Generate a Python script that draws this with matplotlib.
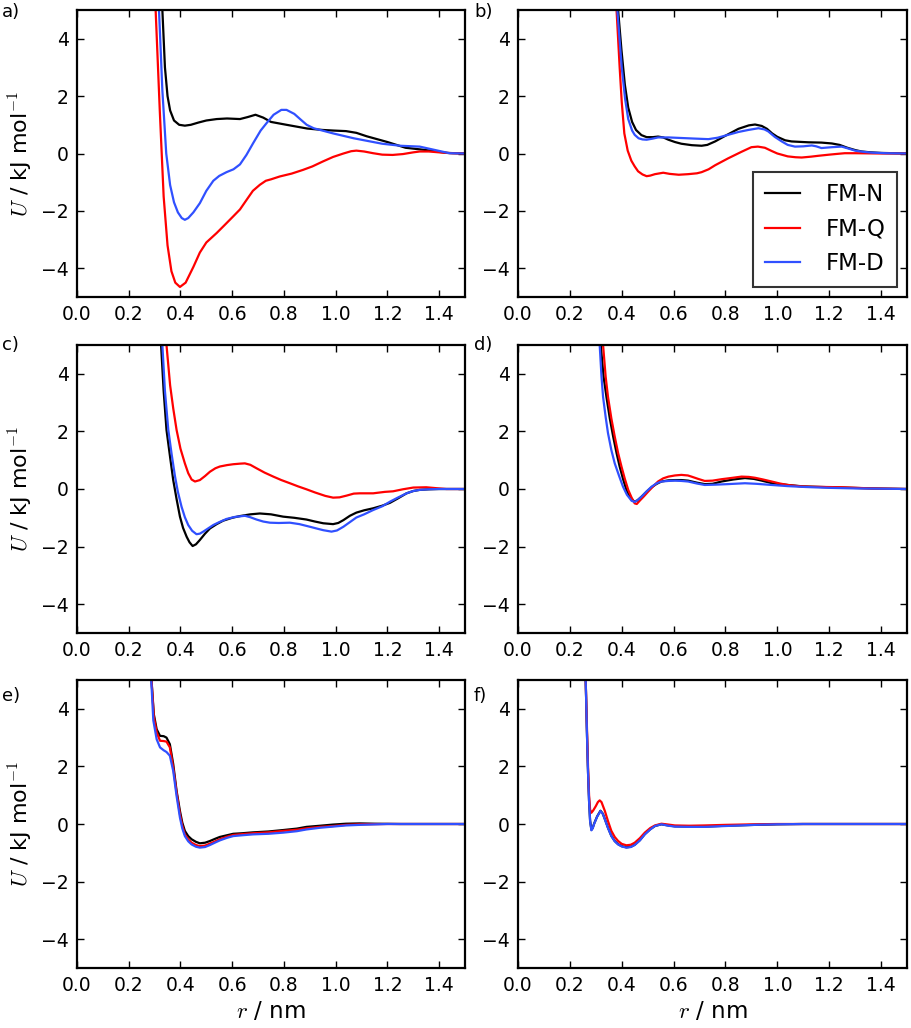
import matplotlib
matplotlib.use('Agg')
import matplotlib.pyplot as plt

# ---- panel a ----
a_N_r = [0.322, 0.33, 0.34, 0.35, 0.36, 0.375, 0.395, 0.417, 0.44, 0.47, 0.50, 0.54, 0.58, 0.63, 0.66, 0.69, 0.72, 0.75, 0.81, 0.89, 0.95, 0.99, 1.04, 1.08, 1.12, 1.20, 1.27, 1.35, 1.43, 1.50]
a_N_U = [9, 5, 3.0, 2.0, 1.5, 1.15, 1.0, 0.97, 1.0, 1.08, 1.15, 1.2, 1.22, 1.2, 1.27, 1.35, 1.25, 1.1, 1.0, 0.87, 0.82, 0.8, 0.78, 0.72, 0.6, 0.4, 0.2, 0.12, 0.02, 0.0]
a_Q_r = [0.296, 0.304, 0.32, 0.335, 0.35, 0.365, 0.38, 0.398, 0.42, 0.45, 0.475, 0.50, 0.54, 0.57, 0.604, 0.63, 0.656, 0.68, 0.707, 0.73, 0.75, 0.784, 0.83, 0.874, 0.91, 0.95, 0.99, 1.03, 1.06, 1.08, 1.11, 1.145, 1.18, 1.22, 1.26, 1.30, 1.325, 1.36, 1.40, 1.45, 1.50]
a_Q_U = [9, 5, 1.5, -1.5, -3.2, -4.1, -4.5, -4.65, -4.5, -3.95, -3.45, -3.1, -2.77, -2.5, -2.19, -1.95, -1.61, -1.3, -1.09, -0.95, -0.9, -0.8, -0.7, -0.57, -0.45, -0.28, -0.12, 0.0, 0.08, 0.1, 0.07, 0.01, -0.04, -0.05, -0.02, 0.04, 0.07, 0.07, 0.04, 0.01, 0.0]
a_D_r = [0.31, 0.317, 0.33, 0.345, 0.36, 0.375, 0.39, 0.405, 0.417, 0.43, 0.45, 0.475, 0.50, 0.527, 0.55, 0.578, 0.605, 0.63, 0.655, 0.681, 0.71, 0.733, 0.76, 0.79, 0.81, 0.84, 0.865, 0.888, 0.915, 0.94, 0.99, 1.07, 1.18, 1.25, 1.325, 1.38, 1.44, 1.50]
a_D_U = [9, 5, 2.2, 0.0, -1.1, -1.7, -2.05, -2.25, -2.31, -2.25, -2.05, -1.73, -1.3, -0.95, -0.78, -0.65, -0.55, -0.38, -0.05, 0.36, 0.8, 1.06, 1.35, 1.52, 1.52, 1.38, 1.18, 1.0, 0.88, 0.82, 0.7, 0.53, 0.34, 0.27, 0.24, 0.13, 0.01, 0.0]

# ---- panel b ----
b_N_r = [0.378, 0.386, 0.399, 0.412, 0.425, 0.44, 0.455, 0.476, 0.496, 0.52, 0.54, 0.56, 0.58, 0.605, 0.63, 0.67, 0.708, 0.73, 0.76, 0.80, 0.85, 0.89, 0.914, 0.94, 0.96, 0.98, 1.0, 1.03, 1.055, 1.12, 1.17, 1.21, 1.24, 1.27, 1.30, 1.325, 1.36, 1.40, 1.50]
b_N_U = [9, 5, 3.6, 2.4, 1.6, 1.1, 0.82, 0.64, 0.57, 0.57, 0.59, 0.56, 0.48, 0.4, 0.34, 0.29, 0.27, 0.3, 0.42, 0.62, 0.86, 0.98, 1.01, 0.96, 0.86, 0.7, 0.58, 0.46, 0.42, 0.39, 0.38, 0.35, 0.3, 0.2, 0.12, 0.07, 0.04, 0.02, 0.0]
b_Q_r = [0.373, 0.38, 0.392, 0.40, 0.41, 0.423, 0.437, 0.45, 0.463, 0.48, 0.496, 0.51, 0.528, 0.56, 0.585, 0.62, 0.656, 0.69, 0.708, 0.735, 0.76, 0.81, 0.862, 0.90, 0.925, 0.952, 0.98, 1.0, 1.04, 1.07, 1.094, 1.13, 1.158, 1.2, 1.235, 1.26, 1.30, 1.40, 1.50]
b_Q_U = [9, 5, 3.0, 1.8, 0.7, 0.1, -0.25, -0.45, -0.62, -0.73, -0.79, -0.77, -0.72, -0.67, -0.71, -0.74, -0.72, -0.69, -0.65, -0.55, -0.41, -0.17, 0.06, 0.22, 0.24, 0.2, 0.08, 0.0, -0.1, -0.13, -0.14, -0.11, -0.08, -0.04, -0.01, 0.01, 0.01, 0.0, 0.0]
b_D_r = [0.375, 0.383, 0.40, 0.413, 0.425, 0.44, 0.45, 0.465, 0.48, 0.496, 0.52, 0.54, 0.58, 0.63, 0.68, 0.734, 0.77, 0.81, 0.85, 0.888, 0.927, 0.95, 0.965, 0.99, 1.017, 1.04, 1.068, 1.10, 1.133, 1.15, 1.17, 1.21, 1.248, 1.275, 1.30, 1.33, 1.364, 1.42, 1.50]
b_D_U = [9, 5, 3.0, 1.9, 1.2, 0.8, 0.65, 0.53, 0.49, 0.48, 0.52, 0.56, 0.56, 0.54, 0.52, 0.5, 0.55, 0.65, 0.75, 0.82, 0.88, 0.84, 0.77, 0.58, 0.42, 0.3, 0.24, 0.25, 0.28, 0.25, 0.19, 0.22, 0.24, 0.17, 0.1, 0.06, 0.03, 0.01, 0.0]

# ---- panel c ----
c_N_r = [0.318, 0.325, 0.335, 0.346, 0.36, 0.372, 0.385, 0.398, 0.41, 0.424, 0.435, 0.447, 0.46, 0.475, 0.495, 0.514, 0.54, 0.565, 0.60, 0.63, 0.67, 0.707, 0.75, 0.797, 0.84, 0.887, 0.92, 0.952, 0.99, 1.01, 1.03, 1.055, 1.08, 1.11, 1.145, 1.18, 1.21, 1.24, 1.274, 1.30, 1.325, 1.36, 1.40, 1.50]
c_N_U = [9, 5, 3.4, 2.05, 1.1, 0.31, -0.35, -0.96, -1.35, -1.66, -1.85, -1.98, -1.92, -1.77, -1.55, -1.37, -1.22, -1.1, -1.0, -0.94, -0.88, -0.85, -0.88, -0.96, -1.0, -1.06, -1.13, -1.19, -1.22, -1.18, -1.08, -0.93, -0.82, -0.74, -0.67, -0.58, -0.48, -0.33, -0.15, -0.07, -0.03, -0.01, 0.0, 0.0]
c_Q_r = [0.338, 0.346, 0.36, 0.372, 0.385, 0.40, 0.417, 0.43, 0.443, 0.456, 0.475, 0.495, 0.514, 0.535, 0.552, 0.58, 0.604, 0.63, 0.649, 0.67, 0.694, 0.725, 0.759, 0.79, 0.823, 0.855, 0.887, 0.92, 0.96, 0.99, 1.015, 1.042, 1.07, 1.093, 1.145, 1.19, 1.222, 1.26, 1.30, 1.35, 1.40, 1.428, 1.50]
c_Q_U = [9, 5, 3.6, 2.8, 2.05, 1.4, 0.89, 0.55, 0.33, 0.26, 0.31, 0.45, 0.6, 0.72, 0.78, 0.83, 0.86, 0.88, 0.89, 0.84, 0.72, 0.57, 0.43, 0.31, 0.2, 0.09, -0.01, -0.12, -0.24, -0.3, -0.29, -0.23, -0.16, -0.15, -0.15, -0.1, -0.08, -0.01, 0.05, 0.06, 0.02, 0.0, 0.0]
c_D_r = [0.323, 0.33, 0.34, 0.353, 0.366, 0.379, 0.39, 0.404, 0.417, 0.43, 0.445, 0.462, 0.475, 0.488, 0.505, 0.527, 0.55, 0.578, 0.61, 0.649, 0.67, 0.694, 0.72, 0.746, 0.78, 0.823, 0.86, 0.90, 0.93, 0.952, 0.984, 1.005, 1.03, 1.055, 1.08, 1.11, 1.145, 1.18, 1.21, 1.24, 1.274, 1.30, 1.325, 1.36, 1.40, 1.50]
c_D_U = [9, 5, 3.4, 2.05, 1.2, 0.43, -0.1, -0.61, -0.98, -1.25, -1.45, -1.57, -1.55, -1.48, -1.38, -1.25, -1.15, -1.04, -0.97, -0.93, -0.98, -1.06, -1.13, -1.17, -1.18, -1.17, -1.22, -1.31, -1.38, -1.43, -1.48, -1.44, -1.31, -1.15, -0.99, -0.88, -0.73, -0.6, -0.44, -0.3, -0.15, -0.07, -0.03, -0.01, 0.0, 0.0]

# ---- panel d ----
d_N_r = [0.312, 0.319, 0.33, 0.341, 0.354, 0.367, 0.38, 0.392, 0.405, 0.418, 0.432, 0.448, 0.46, 0.476, 0.495, 0.515, 0.535, 0.553, 0.58, 0.605, 0.63, 0.656, 0.69, 0.72, 0.75, 0.785, 0.83, 0.875, 0.91, 0.94, 0.98, 1.04, 1.10, 1.17, 1.25, 1.364, 1.50]
d_N_U = [9, 5, 3.9, 3.2, 2.45, 1.82, 1.25, 0.78, 0.35, -0.03, -0.28, -0.44, -0.4, -0.27, -0.1, 0.06, 0.18, 0.26, 0.3, 0.31, 0.31, 0.29, 0.22, 0.17, 0.18, 0.26, 0.33, 0.38, 0.35, 0.29, 0.2, 0.14, 0.09, 0.07, 0.05, 0.02, 0.0]
d_Q_r = [0.321, 0.328, 0.338, 0.347, 0.36, 0.373, 0.386, 0.399, 0.412, 0.425, 0.438, 0.45, 0.458, 0.47, 0.486, 0.502, 0.52, 0.54, 0.56, 0.58, 0.605, 0.63, 0.655, 0.669, 0.695, 0.72, 0.75, 0.785, 0.82, 0.862, 0.89, 0.914, 0.945, 0.978, 1.01, 1.04, 1.08, 1.12, 1.248, 1.364, 1.50]
d_Q_U = [9, 5, 3.9, 3.2, 2.45, 1.82, 1.25, 0.78, 0.35, -0.03, -0.3, -0.5, -0.52, -0.4, -0.25, -0.09, 0.08, 0.26, 0.37, 0.43, 0.47, 0.49, 0.47, 0.43, 0.35, 0.28, 0.29, 0.34, 0.38, 0.43, 0.42, 0.39, 0.33, 0.26, 0.19, 0.14, 0.1, 0.08, 0.06, 0.02, 0.0]
d_D_r = [0.308, 0.315, 0.322, 0.328, 0.338, 0.347, 0.36, 0.373, 0.39, 0.405, 0.42, 0.438, 0.45, 0.462, 0.476, 0.495, 0.515, 0.535, 0.553, 0.58, 0.605, 0.63, 0.656, 0.69, 0.72, 0.76, 0.81, 0.875, 0.92, 0.978, 1.04, 1.107, 1.20, 1.30, 1.50]
d_D_U = [9, 5, 3.9, 3.2, 2.5, 1.94, 1.35, 0.89, 0.45, 0.08, -0.2, -0.41, -0.45, -0.38, -0.27, -0.09, 0.08, 0.2, 0.26, 0.28, 0.29, 0.28, 0.26, 0.19, 0.14, 0.15, 0.17, 0.2, 0.18, 0.14, 0.1, 0.07, 0.04, 0.02, 0.0]

# ---- panel e ----
e_N_r = [0.282, 0.288, 0.297, 0.308, 0.321, 0.335, 0.346, 0.359, 0.372, 0.385, 0.398, 0.407, 0.417, 0.43, 0.443, 0.46, 0.475, 0.495, 0.514, 0.535, 0.552, 0.58, 0.604, 0.64, 0.681, 0.74, 0.797, 0.85, 0.887, 0.94, 0.99, 1.04, 1.093, 1.15, 1.25, 1.50]
e_N_U = [9, 5, 3.81, 3.29, 3.06, 3.05, 3.0, 2.77, 2.08, 1.15, 0.45, 0.05, -0.24, -0.42, -0.53, -0.62, -0.67, -0.65, -0.59, -0.51, -0.45, -0.39, -0.34, -0.32, -0.29, -0.26, -0.21, -0.16, -0.1, -0.06, -0.02, 0.01, 0.02, 0.01, 0.0, 0.0]
e_Q_r = [0.282, 0.288, 0.297, 0.308, 0.321, 0.335, 0.346, 0.359, 0.372, 0.385, 0.398, 0.407, 0.417, 0.43, 0.443, 0.46, 0.475, 0.495, 0.514, 0.535, 0.552, 0.58, 0.604, 0.64, 0.681, 0.74, 0.797, 0.85, 0.887, 0.94, 0.99, 1.04, 1.093, 1.20, 1.50]
e_Q_U = [9, 5, 3.72, 3.18, 2.89, 2.88, 2.86, 2.66, 1.96, 1.09, 0.34, -0.05, -0.36, -0.53, -0.65, -0.73, -0.77, -0.75, -0.68, -0.6, -0.53, -0.44, -0.38, -0.35, -0.32, -0.29, -0.24, -0.2, -0.15, -0.1, -0.07, -0.03, -0.01, 0.0, 0.0]
e_D_r = [0.281, 0.287, 0.295, 0.308, 0.321, 0.335, 0.346, 0.359, 0.372, 0.385, 0.398, 0.407, 0.417, 0.43, 0.443, 0.46, 0.475, 0.495, 0.514, 0.535, 0.552, 0.58, 0.604, 0.64, 0.681, 0.74, 0.797, 0.85, 0.887, 0.94, 0.99, 1.04, 1.093, 1.20, 1.50]
e_D_U = [9, 5, 3.6, 2.94, 2.66, 2.56, 2.5, 2.37, 1.84, 0.97, 0.22, -0.15, -0.42, -0.6, -0.71, -0.79, -0.82, -0.8, -0.73, -0.64, -0.57, -0.48, -0.42, -0.39, -0.36, -0.34, -0.3, -0.25, -0.19, -0.13, -0.09, -0.05, -0.03, 0.0, 0.0]

# ---- panel f ----
f_N_r = [0.258, 0.261, 0.266, 0.27, 0.274, 0.278, 0.283, 0.288, 0.293, 0.305, 0.318, 0.327, 0.335, 0.347, 0.36, 0.373, 0.386, 0.40, 0.418, 0.435, 0.45, 0.47, 0.489, 0.51, 0.528, 0.553, 0.58, 0.605, 0.66, 0.72, 0.80, 0.914, 1.0, 1.1, 1.50]
f_N_U = [9, 5, 3.1, 1.8, 0.8, 0.12, -0.2, -0.14, 0.0, 0.26, 0.46, 0.36, 0.17, -0.13, -0.41, -0.59, -0.7, -0.77, -0.81, -0.79, -0.72, -0.56, -0.35, -0.18, -0.07, -0.01, -0.05, -0.08, -0.09, -0.09, -0.06, -0.03, -0.01, 0.0, 0.0]
f_Q_r = [0.258, 0.261, 0.266, 0.27, 0.274, 0.278, 0.283, 0.29, 0.30, 0.308, 0.315, 0.322, 0.335, 0.347, 0.36, 0.373, 0.386, 0.40, 0.418, 0.435, 0.45, 0.47, 0.489, 0.51, 0.528, 0.553, 0.58, 0.605, 0.66, 0.72, 0.80, 0.914, 1.0, 1.50]
f_Q_U = [9, 5, 3.3, 2.0, 1.0, 0.5, 0.39, 0.47, 0.62, 0.76, 0.82, 0.76, 0.45, 0.1, -0.24, -0.45, -0.59, -0.69, -0.74, -0.72, -0.65, -0.49, -0.3, -0.14, -0.05, 0.01, -0.02, -0.05, -0.06, -0.05, -0.03, -0.01, 0.0, 0.0]
f_D_r = [0.258, 0.261, 0.266, 0.27, 0.274, 0.278, 0.283, 0.288, 0.293, 0.305, 0.318, 0.327, 0.335, 0.347, 0.36, 0.373, 0.386, 0.40, 0.418, 0.435, 0.45, 0.47, 0.489, 0.51, 0.528, 0.553, 0.58, 0.605, 0.66, 0.72, 0.80, 0.914, 1.0, 1.1, 1.50]
f_D_U = [9, 5, 3.1, 1.8, 0.8, 0.1, -0.22, -0.15, -0.01, 0.25, 0.45, 0.35, 0.16, -0.14, -0.42, -0.6, -0.71, -0.78, -0.82, -0.8, -0.73, -0.57, -0.36, -0.19, -0.07, -0.01, -0.06, -0.09, -0.1, -0.1, -0.07, -0.03, -0.01, 0.0, 0.0]

labels = ['FM-N', 'FM-Q', 'FM-D']
colors = ['black', '#ff0000', '#3050ff']
panel_names = ['a)', 'b)', 'c)', 'd)', 'e)', 'f)']
panels = [
    [(a_N_r, a_N_U), (a_Q_r, a_Q_U), (a_D_r, a_D_U)],
    [(b_N_r, b_N_U), (b_Q_r, b_Q_U), (b_D_r, b_D_U)],
    [(c_N_r, c_N_U), (c_Q_r, c_Q_U), (c_D_r, c_D_U)],
    [(d_N_r, d_N_U), (d_Q_r, d_Q_U), (d_D_r, d_D_U)],
    [(e_N_r, e_N_U), (e_Q_r, e_Q_U), (e_D_r, e_D_U)],
    [(f_N_r, f_N_U), (f_Q_r, f_Q_U), (f_D_r, f_D_U)],
]

plt.rcParams['font.family'] = 'DejaVu Sans'
plt.rcParams['mathtext.fontset'] = 'cm'

W, H = 911, 1028
fig = plt.figure(figsize=(W / 100, H / 100), dpi=100)

# axes boxes in pixels: left, right, top, bottom
cols = [(77, 465), (518, 907)]
rows = [(10, 297), (345, 633), (680, 968)]
label_y = [12, 345, 696]

for i, curves in enumerate(panels):
    row, col = divmod(i, 2)
    x0, x1 = cols[col]
    y0, y1 = rows[row]
    ax = fig.add_axes([x0 / W, 1 - y1 / H, (x1 - x0) / W, (y1 - y0) / H])
    for (r, u), c, lab in zip(curves, colors, labels):
        ax.plot(r, u, color=c, lw=1.6, label=lab)
    ax.set_xlim(0, 1.5)
    ax.set_ylim(-5, 5)
    ax.set_xticks([0.0, 0.2, 0.4, 0.6, 0.8, 1.0, 1.2, 1.4])
    ax.set_yticks([-4, -2, 0, 2, 4])
    ax.tick_params(direction='in', top=True, right=True, length=5, width=1,
                   labelsize=13.5, pad=6)
    for s in ax.spines.values():
        s.set_linewidth(1.6)
    if col == 0:
        ax.set_ylabel(r'$U$ / kJ mol$^{-1}$', fontsize=16, labelpad=4)
    if row == 2:
        ax.set_xlabel(r'$r$ / nm', fontsize=16.5, labelpad=3)
    if i == 1:
        leg = ax.legend(loc='lower right', fontsize=16.5, handlelength=1.55,
                        handletextpad=1.1, borderaxespad=0.45, fancybox=False,
                        labelspacing=0.5, borderpad=0.5)
        leg.get_frame().set_edgecolor('black')
        leg.get_frame().set_linewidth(1.5)
    lx = 2 if col == 0 else 474
    fig.text(lx / W, 1 - label_y[row] / H, panel_names[i], fontsize=13,
             ha='left', va='center')

fig.savefig('out.png', dpi=100)
